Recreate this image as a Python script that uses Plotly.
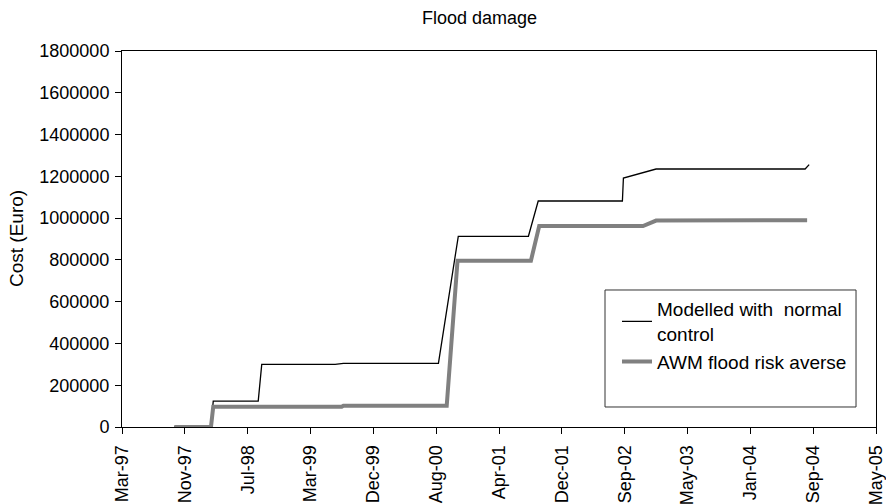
import datetime as dt
import plotly.graph_objects as go

# ---- data ----
normal_dates = ["1997-10-05", "1998-02-28", "1998-03-09", "1998-09-04", "1998-09-18",
                "1999-07-07", "1999-08-09", "2000-08-21", "2000-11-08", "2001-08-14",
                "2001-09-22", "2002-08-23", "2002-08-27", "2003-01-04", "2004-08-19",
                "2004-09-04"]
normal_cost = [0, 0, 124000, 124000, 300000,
               300000, 305000, 305000, 913000, 913000,
               1082000, 1082000, 1192000, 1235000, 1235000,
               1256000]

averse_dates = ["1997-10-05", "1998-02-28", "1998-03-09", "1999-08-02", "1999-08-09",
                "2000-09-23", "2000-11-05", "2001-08-24", "2001-09-26", "2002-11-13",
                "2003-01-04", "2004-08-27"]
averse_cost = [0, 0, 97000, 97000, 102000,
               102000, 796000, 796000, 962000, 962000,
               988000, 990000]

tick_labels = ["Mar-97", "Nov-97", "Jul-98", "Mar-99", "Dec-99", "Aug-00", "Apr-01",
               "Dec-01", "Sep-02", "May-03", "Jan-04", "Sep-04", "May-05"]

series_names = ["Modelled with  normal<br>control", "AWM flood risk averse"]

# ---- axis geometry (Excel-style date axis, major unit 250 days) ----
axis_start = dt.date(1997, 3, 11)
major_unit = 250
tick_vals = [(axis_start + dt.timedelta(days=major_unit * i)).isoformat()
             for i in range(len(tick_labels))]
axis_end = tick_vals[-1]

FONT = "Arial, Liberation Sans, sans-serif"

fig = go.Figure()
fig.add_trace(go.Scatter(x=normal_dates, y=normal_cost, mode="lines",
                         name=series_names[0],
                         line=dict(color="black", width=1.3)))
fig.add_trace(go.Scatter(x=averse_dates, y=averse_cost, mode="lines",
                         name=series_names[1],
                         line=dict(color="#808080", width=4)))

fig.update_layout(
    width=886, height=504,
    margin=dict(l=122, r=10, t=51, b=77, autoexpand=False),
    paper_bgcolor="white", plot_bgcolor="white",
    font=dict(family=FONT, size=18, color="black"),
    showlegend=True,
    legend=dict(x=0.6565, y=0.364, xanchor="left", yanchor="top",
                borderwidth=0, bgcolor="rgba(0,0,0,0)",
                font=dict(family=FONT, size=19, color="black")),
    shapes=[
        dict(type="rect", xref="paper", yref="paper",
             x0=0.6406, x1=0.9735, y0=0.0532, y1=0.3644,
             line=dict(color="#333333", width=1), fillcolor="white",
             layer="above"),
    ],
    annotations=[
        dict(text="Flood damage", xref="paper", yref="paper",
             x=0.4748, y=1, yshift=45, xanchor="center", yanchor="top",
             showarrow=False, font=dict(family=FONT, size=18, color="black")),
        dict(text="Cost (Euro)", xref="paper", yref="paper",
             x=0, xshift=-106, y=0.5, textangle=-90,
             xanchor="center", yanchor="middle",
             showarrow=False, font=dict(family=FONT, size=19, color="black")),
    ],
)

fig.update_xaxes(
    type="date", range=[axis_start.isoformat(), axis_end],
    tickmode="array", tickvals=tick_vals, ticktext=tick_labels,
    tickangle=-90, ticks="outside", ticklen=6, tickcolor="black", tickwidth=1,
    ticklabelstandoff=4,
    showline=True, linecolor="black", linewidth=1, mirror=True,
    showgrid=False, zeroline=False, automargin=False,
    tickfont=dict(family=FONT, size=18, color="black"),
)
fig.update_yaxes(
    range=[0, 1800000], dtick=200000, tick0=0, tickformat="d",
    ticks="outside", ticklen=6, tickcolor="black", tickwidth=1,
    ticklabelstandoff=2,
    showline=True, linecolor="black", linewidth=1, mirror=True,
    showgrid=False, zeroline=False, automargin=False,
    tickfont=dict(family=FONT, size=18, color="black"),
)

fig.write_html("out.html", config={"displayModeBar": False},
               post_script="document.body.style.margin='0';document.body.style.overflow='hidden';")
